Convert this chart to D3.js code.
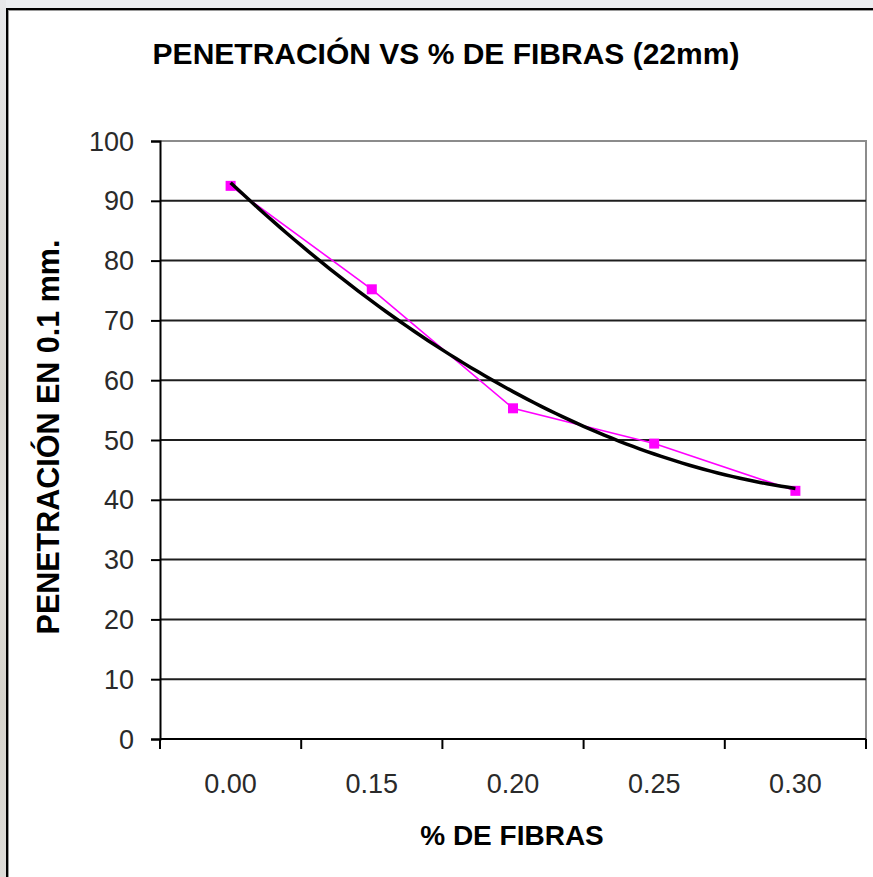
<!DOCTYPE html>
<html>
<head>
<meta charset="utf-8">
<script src="https://cdn.jsdelivr.net/npm/d3@7"></script>
<style>
  html, body { margin: 0; padding: 0; background: #eceef1; overflow: hidden; }
  svg { display: block; }
</style>
</head>
<body>
<svg id="chart" width="873" height="877"></svg>
<script>
// Fibre content categories and measured penetration (0.1 mm units)
const categories = ["0.00", "0.15", "0.20", "0.25", "0.30"];
const penetration = [92.5, 75.2, 55.3, 49.4, 41.5];
const yTicks = [0, 10, 20, 30, 40, 50, 60, 70, 80, 90, 100];

const chartTitle = "PENETRACIÓN VS % DE FIBRAS (22mm)";
const xAxisTitle = "% DE FIBRAS";
const yAxisTitle = "PENETRACIÓN EN 0.1 mm.";

const FONT = "'Liberation Sans', Arial, Helvetica, sans-serif";
const svg = d3.select("#chart");

// Page surround and the chart panel
const defs = svg.append("defs");
const grad = defs.append("linearGradient").attr("id", "edge").attr("x1", 0).attr("y1", 0).attr("x2", 0).attr("y2", 1);
[["0%", "#e7e8ea"], ["25%", "#dcdad6"], ["45%", "#d8d5cf"], ["60%", "#e2e0dc"], ["80%", "#d6d3cc"], ["100%", "#dddbd7"]]
  .forEach(([o, c]) => grad.append("stop").attr("offset", o).attr("stop-color", c));
svg.append("rect").attr("x", 0).attr("y", 0).attr("width", 873).attr("height", 877).attr("fill", "#eceef1");
svg.append("rect").attr("x", 0).attr("y", 0).attr("width", 6).attr("height", 877).attr("fill", "url(#edge)");
svg.append("rect").attr("x", 7).attr("y", 9).attr("width", 900).attr("height", 900)
  .attr("fill", "#ffffff").attr("stroke", "#000").attr("stroke-width", 2);
svg.append("rect").attr("x", 8.5).attr("y", 10.5).attr("width", 900).attr("height", 900)
  .attr("fill", "none").attr("stroke", "#9a9a9a").attr("stroke-width", 1);

// Plot area
const plot = { left: 160, right: 866, top: 141, bottom: 739 };
const x = d3.scaleBand().domain(categories).range([plot.left, plot.right]).padding(0);
const y = d3.scaleLinear().domain([0, 100]).range([plot.bottom, plot.top]);
const cx = c => x(c) + x.bandwidth() / 2;

// Plot area frame (top and right) in grey
svg.append("path")
  .attr("d", `M${plot.left},${y(100)}H${plot.right}V${plot.bottom}`)
  .attr("fill", "none").attr("stroke", "#8c8c8c").attr("stroke-width", 2);

// Horizontal gridlines
svg.append("g").selectAll("line")
  .data(yTicks.filter(t => t > 0 && t < 100))
  .join("line")
  .attr("x1", plot.left).attr("x2", plot.right)
  .attr("y1", d => y(d)).attr("y2", d => y(d))
  .attr("stroke", "#1e1e1e").attr("stroke-width", 2);

// Y axis
const yAxis = d3.axisLeft(y).tickValues(yTicks).tickSize(9).tickPadding(17).tickFormat(d3.format("d"));
const gy = svg.append("g").attr("transform", `translate(${plot.left},0)`).call(yAxis);
gy.select(".domain").attr("stroke", "#000").attr("stroke-width", 2);
gy.selectAll(".tick line").attr("stroke", "#000").attr("stroke-width", 2);
gy.selectAll(".tick text")
  .attr("font-family", FONT).attr("font-size", 27).attr("fill", "#2a2a2a")
  .attr("dy", "0.34em");

// X axis: ticks sit on category boundaries, labels centred in each category
const gx = svg.append("g").attr("transform", `translate(0,${plot.bottom})`);
gx.append("line").attr("x1", plot.left).attr("x2", plot.right).attr("y1", 0).attr("y2", 0)
  .attr("stroke", "#000").attr("stroke-width", 2);
const boundaries = categories.map(c => x(c)).concat([x.range()[1]]);
gx.selectAll("line.tick").data(boundaries).join("line").attr("class", "tick")
  .attr("x1", d => d).attr("x2", d => d).attr("y1", 0).attr("y2", 10)
  .attr("stroke", "#000").attr("stroke-width", 2);
gx.selectAll("text").data(categories).join("text")
  .attr("x", d => cx(d)).attr("y", 54)
  .attr("text-anchor", "middle")
  .attr("font-family", FONT).attr("font-size", 27).attr("fill", "#2a2a2a")
  .text(d => d);

// Measured series
const pts = categories.map((c, i) => ({ c, v: penetration[i] }));
svg.append("path")
  .datum(pts)
  .attr("d", d3.line().x(d => cx(d.c)).y(d => y(d.v)))
  .attr("fill", "none").attr("stroke", "#ff00ff").attr("stroke-width", 1.6);
svg.append("g").selectAll("rect").data(pts).join("rect")
  .attr("x", d => cx(d.c) - 5).attr("y", d => y(d.v) - 5)
  .attr("width", 10).attr("height", 10).attr("fill", "#ff00ff");

// Second-order polynomial trendline fitted to the measured series (least squares on category index)
function quadFit(xs, ys) {
  let s = [0, 0, 0, 0, 0], t = [0, 0, 0];
  xs.forEach((xv, i) => {
    for (let k = 0; k <= 4; k++) s[k] += Math.pow(xv, k);
    for (let k = 0; k <= 2; k++) t[k] += Math.pow(xv, k) * ys[i];
  });
  const M = [[s[0], s[1], s[2], t[0]], [s[1], s[2], s[3], t[1]], [s[2], s[3], s[4], t[2]]];
  for (let i = 0; i < 3; i++) {
    for (let j = i + 1; j < 3; j++) {
      const f = M[j][i] / M[i][i];
      for (let k = i; k < 4; k++) M[j][k] -= f * M[i][k];
    }
  }
  const c = [0, 0, 0];
  for (let i = 2; i >= 0; i--) {
    let acc = M[i][3];
    for (let k = i + 1; k < 3; k++) acc -= M[i][k] * c[k];
    c[i] = acc / M[i][i];
  }
  return xv => c[0] + c[1] * xv + c[2] * xv * xv;
}
const idx = categories.map((c, i) => i + 1);
const trend = quadFit(idx, penetration);
const xi = d3.scaleLinear().domain([1, categories.length]).range([cx(categories[0]), cx(categories[categories.length - 1])]);
const trendPts = d3.range(1, categories.length + 0.0001, 0.05).map(t => [xi(t), y(trend(t))]);
svg.append("path")
  .attr("d", d3.line()(trendPts))
  .attr("fill", "none").attr("stroke", "#000").attr("stroke-width", 3.5)
  .attr("stroke-linejoin", "round");

// Titles
svg.append("text").attr("x", 446).attr("y", 64).attr("text-anchor", "middle")
  .attr("font-family", FONT).attr("font-weight", "bold").attr("font-size", 30).attr("fill", "#000")
  .text(chartTitle);
svg.append("text").attr("x", 512).attr("y", 845).attr("text-anchor", "middle")
  .attr("font-family", FONT).attr("font-weight", "bold").attr("font-size", 28).attr("fill", "#000")
  .text(xAxisTitle);
svg.append("text").attr("transform", "translate(59,437) rotate(-90)").attr("text-anchor", "middle")
  .attr("font-family", FONT).attr("font-weight", "bold").attr("font-size", 30.5).attr("fill", "#000")
  .text(yAxisTitle);
</script>
</body>
</html>
